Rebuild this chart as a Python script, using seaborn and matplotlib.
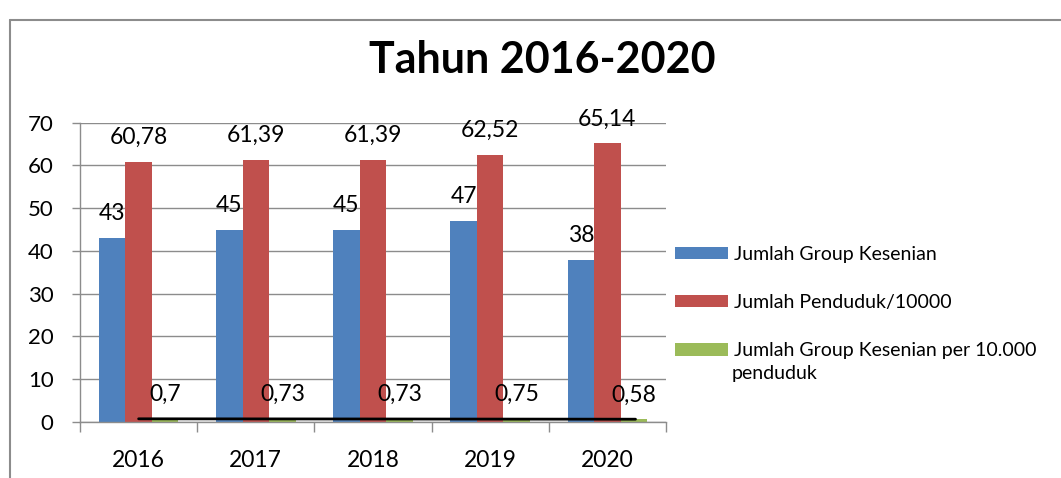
import numpy as np
import pandas as pd
import matplotlib.pyplot as plt
import seaborn as sns
from matplotlib.lines import Line2D

# --- data ---
years = ["2016", "2017", "2018", "2019", "2020"]
series = [
    "Jumlah Group Kesenian",
    "Jumlah Penduduk/10000",
    "Jumlah Group Kesenian per 10.000",
]
group_kesenian = [43, 45, 45, 47, 38]
penduduk = [60.78, 61.39, 61.39, 62.52, 65.14]
per_10000 = [0.7, 0.73, 0.73, 0.75, 0.58]
colors = ["#4F81BD", "#C0504D", "#9BBB59"]
title = "Tahun 2016-2020"

df = pd.DataFrame(
    {
        "Tahun": years * 3,
        "Seri": [s for s in series for _ in years],
        "Nilai": group_kesenian + penduduk + per_10000,
    }
)

sns.set_theme(style="white")
plt.rcParams["font.family"] = ["Lato", "DejaVu Sans"]
plt.rcParams["text.color"] = "black"

fig = plt.figure(figsize=(10.61, 4.78), dpi=100)
ax = fig.add_axes([0.0754, 0.1172, 0.5523, 0.6261])

sns.barplot(
    data=df, x="Tahun", y="Nilai", hue="Seri", palette=colors,
    width=0.68, saturation=1, ax=ax, legend=True, linewidth=0,
)

ax.set_ylim(0, 70)
ax.set_xlim(-0.5, 4.5)
ax.set_yticks(range(0, 71, 10))
ax.set_xlabel("")
ax.set_ylabel("")
ax.yaxis.grid(True, color="#8C8C8C", linewidth=1)
ax.set_axisbelow(True)
for s in ["top", "right"]:
    ax.spines[s].set_visible(False)
for s in ["left", "bottom"]:
    ax.spines[s].set_color("#8C8C8C")
    ax.spines[s].set_linewidth(1)

ax.tick_params(axis="y", length=6, width=1, color="#8C8C8C", pad=13,
               labelsize=16, labelcolor="black", left=True)
ax.tick_params(axis="x", which="major", length=0, pad=20,
               labelsize=16.5, labelcolor="black")
ax.set_xticks(np.arange(-0.5, 5, 1), minor=True)
ax.tick_params(axis="x", which="minor", length=7, width=1, color="#8C8C8C",
               bottom=True)

# data labels
values = [group_kesenian, penduduk, per_10000]
for cont, vals in zip(ax.containers, values):
    ax.bar_label(cont, labels=[str(v).replace(".", ",") for v in vals],
                 padding=10, fontsize=16.5, color="black")

# linear trendline for the per-10.000 series
xs = np.arange(len(years))
k, b = np.polyfit(xs, per_10000, 1)
xt = np.array([0, len(years) - 1 + 0.24])
ax.plot(xt, k * xt + b, color="black", linewidth=2, zorder=5)

# legend
handles, labels = ax.get_legend_handles_labels()
ax.legend(
    handles, labels, loc="upper left", frameon=False,
    bbox_to_anchor=(675 / 1061, 1 - 246 / 478), bbox_transform=fig.transFigure,
    fontsize=14, handlelength=2.75, handleheight=0.6, handletextpad=0.27,
    labelspacing=1.6, borderaxespad=0, borderpad=0,
)
fig.text(732 / 1061, 1 - 373 / 478, "penduduk", fontsize=14, va="center",
         ha="left")

fig.text(542 / 1061, 1 - 60 / 478, title, fontsize=31, fontweight="bold",
         ha="center", va="center", color="black")

# chart frame
fig.add_artist(Line2D([10 / 1061, 10 / 1061], [0, 1 - 20 / 478],
                      transform=fig.transFigure, color="#8C8C8C", linewidth=1.5))
fig.add_artist(Line2D([10 / 1061, 1], [1 - 20 / 478, 1 - 20 / 478],
                      transform=fig.transFigure, color="#8C8C8C", linewidth=1.5))

fig.savefig("out.png", dpi=100)
